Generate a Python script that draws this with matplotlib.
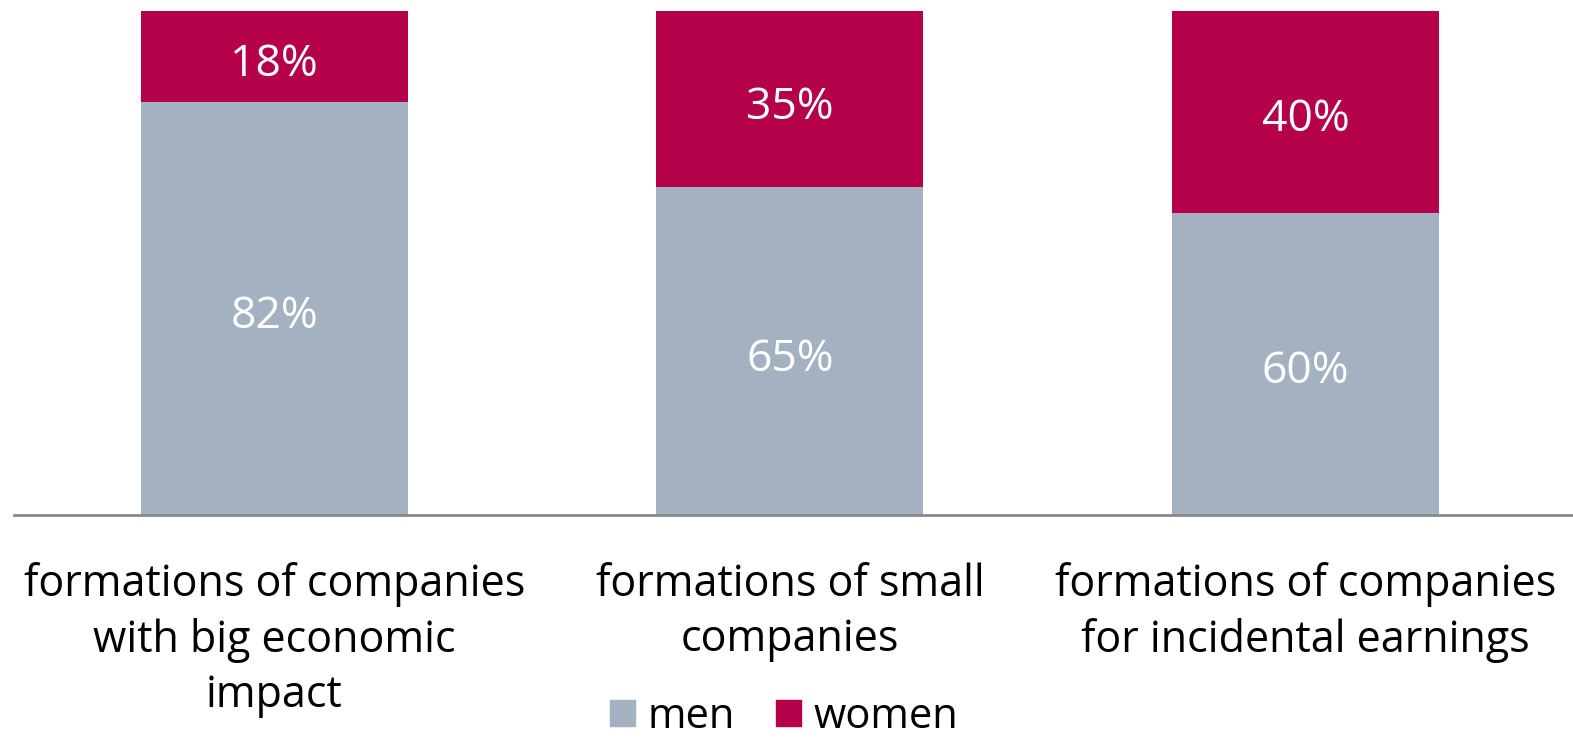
import matplotlib.pyplot as plt
from matplotlib.patches import Patch

categories = ["formations of companies\nwith big economic\nimpact",
              "formations of small\ncompanies",
              "formations of companies\nfor incidental earnings"]
men = [82, 65, 60]
women = [18, 35, 40]

GRAY = "#a3b1c1"
RED = "#b5004a"

plt.rcParams['font.family'] = ['Open Sans', 'DejaVu Sans']

fig = plt.figure(figsize=(15.73, 7.41), dpi=100)
ax = fig.add_axes([14 / 1573, 1 - 515 / 741, 1 - 14 / 1573, (515 - 11) / 741])

x = range(len(categories))
width = 0.518
ax.bar(x, men, width, color=GRAY, label="men")
ax.bar(x, women, width, bottom=men, color=RED, label="women")

# labels sit a little below the middle of each segment
for i in x:
    ax.text(i, men[i] / 2 - 1.6, f"{men[i]}%", ha='center', va='center',
            color='white', fontsize=32)
    ax.text(i, men[i] + women[i] / 2 - 1.6, f"{women[i]}%", ha='center', va='center',
            color='white', fontsize=32)

ax.set_xlim(-0.505, 2.519)
ax.set_ylim(0, 100)
ax.set_yticks([])
ax.set_xticks(list(x))
ax.set_xticklabels(categories, fontsize=31, linespacing=1.32)
ax.tick_params(axis='x', length=0, pad=34)
for s in ['top', 'right', 'left']:
    ax.spines[s].set_visible(False)
ax.spines['bottom'].set_color('#888888')
ax.spines['bottom'].set_linewidth(2)

handles = [Patch(color=GRAY, label="men"), Patch(color=RED, label="women")]
fig.legend(handles=handles, loc='lower center', bbox_to_anchor=(0.4985, -0.046), ncol=2,
           frameon=False, fontsize=30, handlelength=0.6, handleheight=0.6,
           handletextpad=0.3, columnspacing=1.0)

fig.savefig("out.png", dpi=100)
